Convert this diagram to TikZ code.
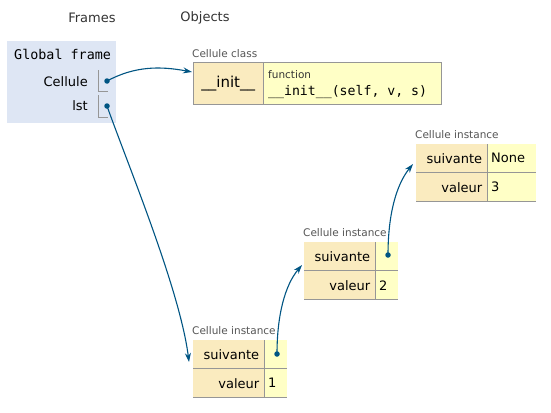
\documentclass[tikz,border=0pt]{standalone}
\usepackage{fontspec}
\setmainfont{DejaVu Sans}
\setmonofont{DejaVu Sans Mono}
\usetikzlibrary{arrows.meta}
\definecolor{frameblue}{RGB}{222,230,244}
\definecolor{keyfill}{RGB}{250,235,191}
\definecolor{valfill}{RGB}{255,255,198}
\definecolor{cellborder}{RGB}{150,150,150}
\definecolor{ptr}{RGB}{0,85,131}
\definecolor{hdr}{RGB}{51,51,51}
\definecolor{lbl}{RGB}{85,85,85}
\tikzset{
  txt/.style={inner sep=0pt, font=\fontsize{13}{15}\selectfont},
  small/.style={inner sep=0pt, text=lbl, font=\fontsize{10.5}{12}\selectfont},
  keycell/.style={draw=none, fill=keyfill, anchor=north west, inner xsep=5pt, inner ysep=0pt, align=right, font=\fontsize{13}{15}\selectfont},
  valcell/.style={draw=none, fill=valfill, anchor=north west, inner xsep=4pt, inner ysep=0pt, align=left, font=\fontsize{13}{15}\selectfont},
  grid/.style={draw=cellborder, line width=1pt},
  dot/.style={circle, fill=ptr, inner sep=0pt, minimum size=5.5pt},
  pointer/.style={draw=ptr, line width=1.1pt, -{Stealth[length=9pt, width=6pt]}},
}
\begin{document}
\begin{tikzpicture}[x=1pt,y=-1pt]
\useasboundingbox (0,0) rectangle (551,412);
\fill[white] (0,0) rectangle (551,412);

% headers
\node[txt, text=hdr] (hframes) at (92,18) {Frames};
\node[txt, text=hdr] (hobjects) at (205,18) {Objects};

% global frame
\node[fill=frameblue, anchor=north west, minimum width=109pt, minimum height=82pt, inner sep=0pt] (gframe) at (7,41) {};
\node[txt, anchor=west, font=\ttfamily\fontsize{13.4}{15}\selectfont] (gtitle) at (14,54) {Global frame};
\node[txt, anchor=east] (vcellule) at (88,82) {Cellule};
\node[txt, anchor=east] (vlst) at (88,106) {lst};
\draw[grid] (98,70) -- (98,91) -- (108,91);
\draw[grid] (98,95) -- (98,117) -- (108,117);
\node[dot] (dcellule) at (107,81) {};
\node[dot] (dlst) at (107,106) {};

% Cellule class
\node[small, anchor=west] (lclass) at (192,54) {Cellule class};
\node[keycell, minimum width=70pt, minimum height=41pt, text width=60pt, align=center, font=\fontsize{15}{17}\selectfont] (cinit) at (193,63) {\_\_init\_\_};
\node[valcell, minimum width=178pt, minimum height=41pt, text width=170pt] (cfun) at (263,63) {};
\node[small, anchor=west, text=hdr] (cfunlbl) at (268,75) {function};
\node[txt, anchor=west, font=\ttfamily\fontsize{13.2}{15}\selectfont] (cfunsig) at (268,92) {\_\_init\_\_(self, v, s)};
\draw[grid] (193,63) rectangle (441,104);
\draw[grid] (263,63) -- (263,104);

% instance 3 (valeur 3)
\node[small, anchor=west] (l3) at (415,135) {Cellule instance};
\node[keycell, minimum width=71pt, minimum height=28pt, text width=61pt] (k3a) at (416,144) {suivante};
\node[valcell, minimum width=49pt, minimum height=28pt, text width=41pt] (v3a) at (487,144) {None};
\node[keycell, minimum width=71pt, minimum height=28pt, text width=61pt] (k3b) at (416,173) {valeur};
\node[valcell, minimum width=49pt, minimum height=28pt, text width=41pt] (v3b) at (487,173) {3};
\draw[grid] (416,172.5) -- (536,172.5);
\draw[grid] (416,201.5) -- (536,201.5);
\draw[grid] (487,144) -- (487,201.5);

% instance 2 (valeur 2)
\node[small, anchor=west] (l2) at (303,233) {Cellule instance};
\node[keycell, minimum width=71pt, minimum height=28pt, text width=61pt] (k2a) at (304,242) {suivante};
\node[valcell, minimum width=23pt, minimum height=28pt, text width=15pt] (v2a) at (375,242) {};
\node[keycell, minimum width=71pt, minimum height=28pt, text width=61pt] (k2b) at (304,271) {valeur};
\node[valcell, minimum width=23pt, minimum height=28pt, text width=15pt] (v2b) at (375,271) {2};
\draw[grid] (304,270.5) -- (398,270.5);
\draw[grid] (304,299.5) -- (398,299.5);
\draw[grid] (375,242) -- (375,299.5);
\node[dot] (d2) at (388,255) {};

% instance 1 (valeur 1)
\node[small, anchor=west] (l1) at (192,331) {Cellule instance};
\node[keycell, minimum width=71pt, minimum height=28pt, text width=61pt] (k1a) at (193,340) {suivante};
\node[valcell, minimum width=23pt, minimum height=28pt, text width=15pt] (v1a) at (264,340) {};
\node[keycell, minimum width=71pt, minimum height=28pt, text width=61pt] (k1b) at (193,369) {valeur};
\node[valcell, minimum width=23pt, minimum height=28pt, text width=15pt] (v1b) at (264,369) {1};
\draw[grid] (193,368.5) -- (287,368.5);
\draw[grid] (193,397.5) -- (287,397.5);
\draw[grid] (264,340) -- (264,397.5);
\node[dot] (d1) at (277,354) {};

% pointers
\coordinate (tclass) at (192,72);
\coordinate (t1) at (189,362);
\coordinate (t2) at (302,265);
\coordinate (t3) at (413,164);
\draw[pointer] (dcellule.center) .. controls (135,66) and (160,66) .. (tclass);
\draw[pointer] (dlst.center) .. controls (128,165) and (180,290) .. (t1);
\draw[pointer] (d1.center) .. controls (277,315) and (285,285) .. (t2);
\draw[pointer] (d2.center) .. controls (388,215) and (396,185) .. (t3);
\end{tikzpicture}
\end{document}
